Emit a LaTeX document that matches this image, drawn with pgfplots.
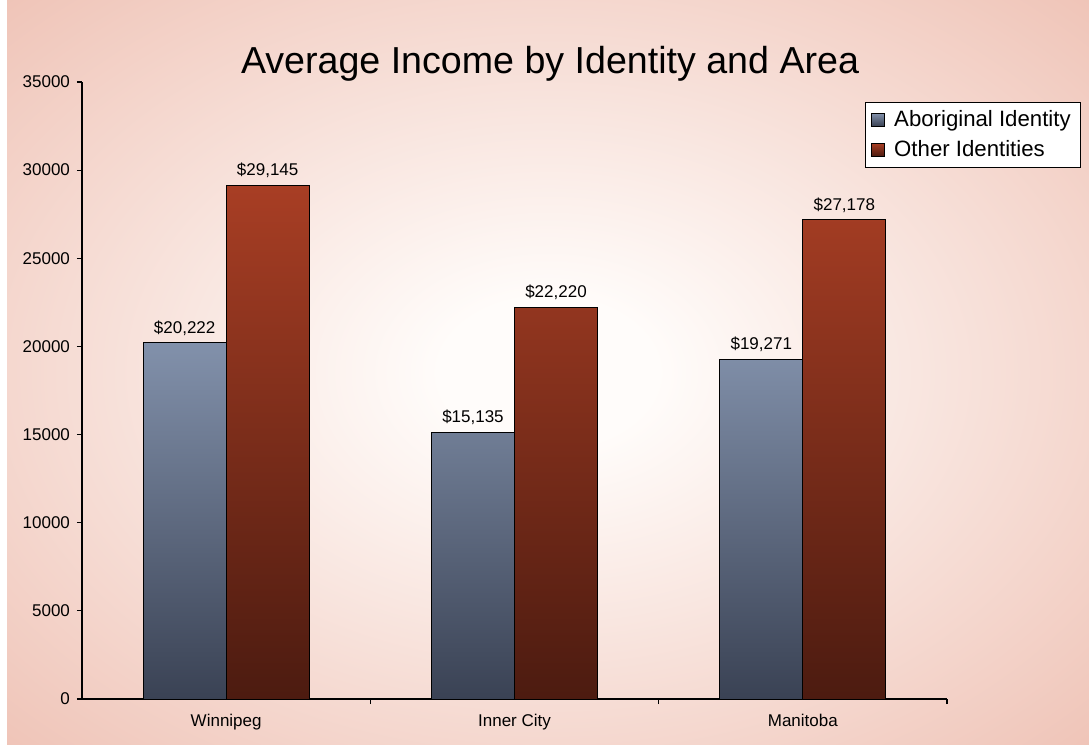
\documentclass[border=0pt]{standalone}
\usepackage{pgfplots}
\pgfplotsset{compat=1.18}
\usepackage{fontspec}
\setmainfont{Liberation Sans}
\definecolor{bgpink}{RGB}{237,188,174}
\definecolor{bgcenter}{RGB}{255,252,250}
\definecolor{abtop}{RGB}{130,145,171}
\definecolor{abbot}{RGB}{58,66,84}
\definecolor{ottop}{RGB}{168,62,36}
\definecolor{otbot}{RGB}{76,27,16}
\pgfdeclareradialshading{bgshade}{\pgfpoint{0bp}{0bp}}{color(0bp)=(bgcenter); color(5bp)=(bgcenter); color(40bp)=(bgpink); color(80bp)=(bgpink)}
\begin{document}
\begin{tikzpicture}
\fill[white] (0,0) rectangle (544.5pt,372.5pt);
\shade[shading=bgshade] (3.5pt,0) rectangle (544.5pt,372.5pt);
\begin{axis}[
  at={(41pt,23pt)}, anchor=south west, scale only axis,
  width=432.5pt, height=308.5pt,
  ymin=0, ymax=35000, ytick={0,5000,...,35000},
  scaled y ticks=false,
  yticklabel style={/pgf/number format/.cd, fixed, precision=0, 1000 sep={}},
  xmin=-0.5, xmax=2.5,
  xtick={0.5,1.5,2.5}, xticklabels={},
  extra x ticks={0,1,2},
  extra x tick labels={Winnipeg,Inner City,Manitoba},
  extra x tick style={major tick length=0pt, xticklabel style={yshift=-4pt}},
  axis x line*=bottom, axis y line*=left,
  axis line style={-, line width=0.6pt},
  tick align=outside,
  major tick length=2.5pt,
  tick style={black, line width=0.6pt},
  /pgf/number format/assume math mode=true,
  /pgf/number format/1000 sep={},
  ticklabel style={font=\fontsize{8.5}{10}\selectfont},
  ybar=0pt, bar width=0.288,
  nodes near coords={\$\pgfmathprintnumber[fixed,precision=0,1000 sep={,},assume math mode=true]{\pgfplotspointmeta}},
  every node near coord/.append style={font=\fontsize{8.5}{10}\selectfont, black, yshift=0pt},
  legend image code/.code={\draw[#1] (1pt,-3.2pt) rectangle (7.5pt,3.2pt);},
  legend style={at={(0.905,0.968)}, anchor=north west, draw=black, fill=white,
    font=\fontsize{11.1}{13}\selectfont, row sep=1.5pt, inner xsep=3pt, inner ysep=2pt,
    /tikz/every odd column/.append style={column sep=2.5pt},
    /tikz/every even column/.append style={column sep=0pt}},
  legend cell align=left,
  clip=false,
]
\addplot[draw=black, line width=0.5pt, top color=abtop, bottom color=abbot]
  coordinates {(0,20222) (1,15135) (2,19271)};
\addlegendentry{Aboriginal Identity}
\addplot[draw=black, line width=0.5pt, top color=ottop, bottom color=otbot]
  coordinates {(0,29145) (1,22220) (2,27178)};
\addlegendentry{Other Identities}
\end{axis}
\node[font=\fontsize{18.8}{22}\selectfont] at (275pt,340.5pt) {Average Income by Identity and Area};
\end{tikzpicture}
\end{document}
